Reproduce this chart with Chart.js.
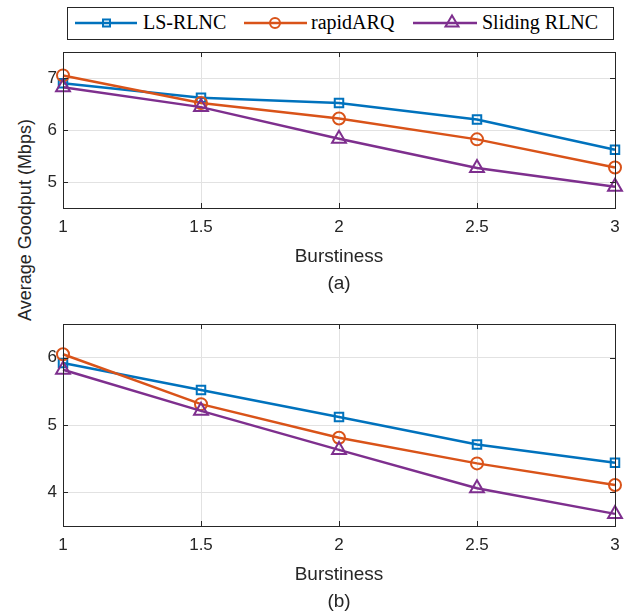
<!DOCTYPE html>
<html>
<head>
<meta charset="utf-8">
<script src="https://cdn.jsdelivr.net/npm/chart.js@4.4.0/dist/chart.umd.min.js"></script>
<style>
  html, body { margin: 0; padding: 0; background: #fff; overflow: hidden; width: 635px; height: 612px; }
  canvas { position: absolute; left: 0; }
  #chartA { top: 0; }
  #chartB { top: 300px; }
  #legend {
    position: absolute; left: 67px; top: 7px; width: 545px; height: 31px;
    border: 1px solid #262626; background: #fff;
    font-family: "Liberation Serif", "Times New Roman", serif; font-size: 20px; color: #000;
  }
  #legend svg { position: absolute; left: -68px; top: -8px; }
  #legend span { position: absolute; top: 3px; white-space: nowrap; }
  #ylab {
    position: absolute; left: 25px; top: 220px;
    transform: translate(-50%, -50%) rotate(-90deg);
    font-family: "Liberation Sans", Arial, sans-serif; font-size: 18px; color: #262626;
    white-space: nowrap;
  }
</style>
</head>
<body>
<div id="legend">
  <svg width="635" height="50">
    <line x1="75" y1="23" x2="137" y2="23" stroke="#0072BD" stroke-width="2.5"/>
    <rect x="103" y="19.5" width="7" height="7" fill="none" stroke="#0072BD" stroke-width="2"/>
    <line x1="244" y1="23" x2="307" y2="23" stroke="#D95319" stroke-width="2.5"/>
    <circle cx="275" cy="23" r="5" fill="none" stroke="#D95319" stroke-width="2"/>
    <line x1="413" y1="23" x2="477" y2="23" stroke="#7E2F8E" stroke-width="2.5"/>
    <polygon points="452,15.5 458.5,26.5 445.5,26.5" fill="none" stroke="#7E2F8E" stroke-width="2"/>
  </svg>
  <span style="left:75px">LS-RLNC</span>
  <span style="left:243px">rapidARQ</span>
  <span style="left:414px">Sliding RLNC</span>
</div>
<div id="ylab">Average Goodput (Mbps)</div>
<canvas id="chartA" width="635" height="300"></canvas>
<canvas id="chartB" width="635" height="320"></canvas>
<script>
const burst = [1, 1.5, 2, 2.5, 3];
const xTickLabels = ['1', '1.5', '2', '2.5', '3'];

// (a)
const lsA      = [6.90, 6.62, 6.52, 6.20, 5.62];
const rapidA   = [7.05, 6.52, 6.22, 5.82, 5.28];
const slidingA = [6.82, 6.44, 5.83, 5.27, 4.91];
const yTicksA  = [5, 6, 7];

// (b)
const lsB      = [5.92, 5.52, 5.12, 4.71, 4.44];
const rapidB   = [6.05, 5.31, 4.81, 4.43, 4.11];
const slidingB = [5.82, 5.21, 4.63, 4.06, 3.68];
const yTicksB  = [4, 5, 6];

const names  = ['LS-RLNC', 'rapidARQ', 'Sliding RLNC'];
const colors = ['#0072BD', '#D95319', '#7E2F8E'];
const styles = ['rect', 'circle', 'triangle'];
const radii  = [6, 6, 8];

const tickFont  = { family: '"Liberation Sans", Arial, sans-serif', size: 17 };
const titleFont = { family: '"Liberation Sans", Arial, sans-serif', size: 19, lineHeight: 1.4 };

function pts(vals) {
  return vals.map((v, i) => ({ x: burst[i], y: v }));
}

function makeSets(series) {
  return series.map((s, i) => ({
    label: names[i],
    data: pts(s),
    borderColor: colors[i],
    backgroundColor: colors[i],
    borderWidth: 2.5,
    pointStyle: styles[i],
    pointRadius: radii[i],
    pointHoverRadius: radii[i],
    pointBorderWidth: 2,
    pointBackgroundColor: 'rgba(0,0,0,0)',
    pointBorderColor: colors[i],
    tension: 0,
    clip: false,
    order: 3 - i
  }));
}

// box around the plot + inward ticks, like matlab "box on"
const boxPlugin = {
  id: 'box',
  afterDraw(chart) {
    const { ctx, chartArea: a, scales } = chart;
    ctx.save();
    ctx.strokeStyle = '#262626';
    ctx.lineWidth = 1;
    ctx.beginPath();
    scales.x.ticks.forEach(t => {
      const px = Math.round(scales.x.getPixelForValue(t.value)) + 0.5;
      ctx.moveTo(px, a.bottom); ctx.lineTo(px, a.bottom - 5);
      ctx.moveTo(px, a.top); ctx.lineTo(px, a.top + 5);
    });
    scales.y.ticks.forEach(t => {
      const py = Math.round(scales.y.getPixelForValue(t.value)) + 0.5;
      ctx.moveTo(a.left, py); ctx.lineTo(a.left + 5, py);
      ctx.moveTo(a.right, py); ctx.lineTo(a.right - 5, py);
    });
    ctx.stroke();
    ctx.strokeRect(Math.round(a.left) + 0.5, Math.round(a.top) + 0.5,
                   Math.round(a.right - a.left), Math.round(a.bottom - a.top));
    ctx.restore();
  }
};

function makeChart(id, series, yMin, yMax, yTicks, sub, padTop, xHeight, titlePadBottom) {
  return new Chart(document.getElementById(id), {
    type: 'line',
    data: { datasets: makeSets(series) },
    plugins: [boxPlugin],
    options: {
      responsive: false,
      animation: false,
      layout: { padding: { top: padTop, right: 20, left: 0, bottom: 0 } },
      plugins: { legend: { display: false }, tooltip: { enabled: false } },
      scales: {
        x: {
          type: 'linear',
          min: 1, max: 3,
          afterBuildTicks: s => { s.ticks = burst.map(v => ({ value: v })); },
          afterFit: s => { s.height = xHeight; },
          grid: { color: '#e2e2e2', drawTicks: false },
          border: { display: false },
          ticks: {
            color: '#262626', font: tickFont, padding: 9, maxRotation: 0,
            callback: (v, i) => xTickLabels[i]
          },
          title: {
            display: true, text: ['Burstiness', sub], color: '#262626',
            font: titleFont, padding: { top: 0, bottom: titlePadBottom }
          }
        },
        y: {
          min: yMin, max: yMax,
          afterBuildTicks: s => { s.ticks = yTicks.map(v => ({ value: v })); },
          afterFit: s => { s.width = 63; },
          grid: { color: '#e2e2e2', drawTicks: false },
          border: { display: false },
          ticks: { color: '#262626', font: tickFont, padding: 6, callback: v => String(v) }
        }
      }
    }
  });
}

makeChart('chartA', [lsA, rapidA, slidingA], 4.5, 7.5, yTicksA, '(a)', 52, 92, 3);
makeChart('chartB', [lsB, rapidB, slidingB], 3.5, 6.5, yTicksB, '(b)', 24, 94, 5);
</script>
</body>
</html>
